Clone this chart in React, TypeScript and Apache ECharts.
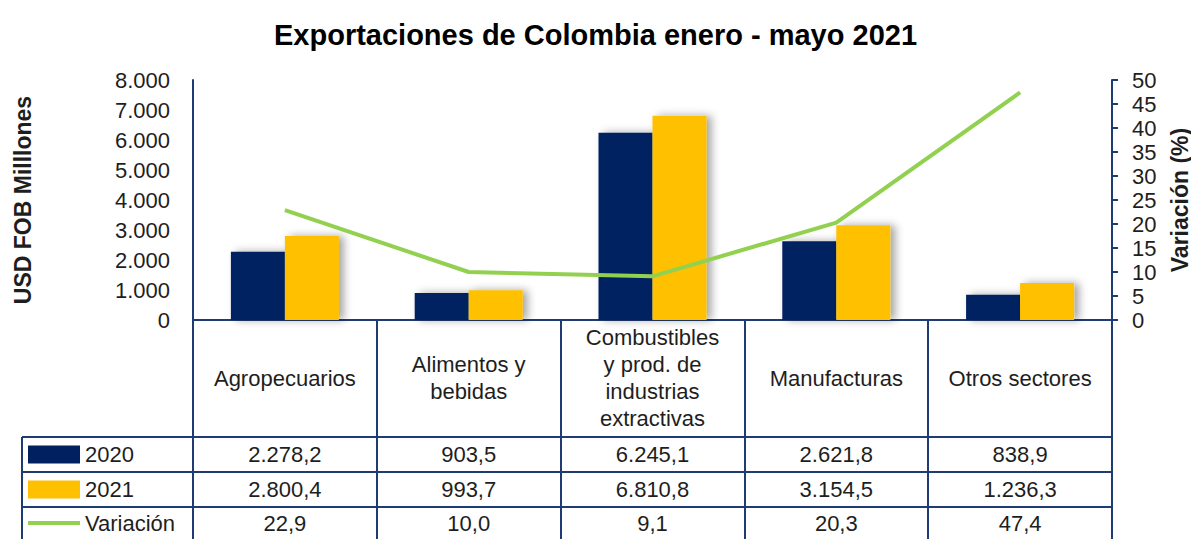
import React, { useEffect, useRef } from "react";
import * as echarts from "echarts";

const categories = [
  "Agropecuarios",
  "Alimentos y\nbebidas",
  "Combustibles\ny prod. de\nindustrias\nextractivas",
  "Manufacturas",
  "Otros sectores",
];
const exports2020 = [2278.2, 903.5, 6245.1, 2621.8, 838.9];
const exports2021 = [2800.4, 993.7, 6810.8, 3154.5, 1236.3];
const variation = [22.9, 10.0, 9.1, 20.3, 47.4];
const seriesNames = ["2020", "2021", "Variación"];
const titleText = "Exportaciones de Colombia enero - mayo 2021";
const leftAxisName = "USD FOB Milllones";
const rightAxisName = "Variación (%)";

const FONT = "'Liberation Sans', Arial, sans-serif";
const NAVY = "#002060";
const GOLD = "#FFC000";
const GREEN = "#92D050";
const LINE = "#1F3B73";
const TEXT = "#1e1e1e";

function fmt(v: number, d: number): string {
  const [i, f] = v.toFixed(d).split(".");
  const ii = i.replace(/\B(?=(\d{3})+(?!\d))/g, ".");
  return f ? ii + "," + f : ii;
}

export default function App() {
  const ref = useRef<HTMLDivElement>(null);
  useEffect(() => {
    if (!ref.current) return;
    const chart = echarts.init(ref.current, null, { renderer: "svg" });
    const W = 1191;
    const H = 539;
    const gridLeft = 193;
    const gridRight = 1112;
    const gridTop = 80;
    const gridBottom = 320;

    const rowAxis = (data: string[], offset: number) => ({
      type: "category",
      gridIndex: 0,
      position: "bottom",
      offset,
      data,
      axisLine: { show: false },
      axisTick: { show: false },
      splitLine: { show: false },
      axisLabel: {
        interval: 0,
        margin: 0,
        verticalAlign: "middle",
        fontSize: 22,
        fontFamily: FONT,
        color: TEXT,
      },
    });

    const legendItem = (name: string, centerY: number, icon?: string) => ({
      orient: "vertical",
      left: 28,
      top: centerY - 11,
      itemWidth: 52,
      itemHeight: 18,
      padding: 0,
      selectedMode: false,
      textStyle: { fontSize: 22, fontFamily: FONT, color: TEXT, padding: [0, 0, 0, 0] },
      data: [icon ? { name, icon, itemStyle: { color: GREEN } } : { name, icon: "rect" }],
    });

    const hLine = (y: number) => ({
      type: "line",
      shape: { x1: 22, y1: y, x2: gridRight, y2: y },
      style: { stroke: LINE, lineWidth: 2 },
      silent: true,
    });

    chart.setOption({
      animation: false,
      backgroundColor: "#ffffff",
      textStyle: { fontFamily: FONT },
      title: {
        text: titleText,
        left: "center",
        top: 15,
        textStyle: { fontSize: 29, fontWeight: "bold", color: "#000", fontFamily: FONT },
      },
      legend: [
        legendItem(seriesNames[0], 454.5),
        legendItem(seriesNames[1], 489.5),
        legendItem(seriesNames[2], 523, "path://M0,0H52V4H0Z"),
      ],
      grid: {
        left: gridLeft,
        right: W - gridRight,
        top: gridTop,
        bottom: H - gridBottom,
        containLabel: false,
        outerBoundsMode: "none",
      },
      xAxis: [
        {
          type: "category",
          data: categories,
          axisLine: { show: true, lineStyle: { color: LINE, width: 2 } },
          axisTick: {
            show: true,
            interval: 0,
            length: H - gridBottom,
            lineStyle: { color: LINE, width: 2 },
          },
          axisLabel: {
            interval: 0,
            margin: 58,
            verticalAlign: "middle",
            lineHeight: 27,
            fontSize: 22,
            fontFamily: FONT,
            color: TEXT,
          },
        },
        rowAxis(exports2020.map((v) => fmt(v, 1)), 134.5),
        rowAxis(exports2021.map((v) => fmt(v, 1)), 169.5),
        rowAxis(variation.map((v) => fmt(v, 1)), 203),
      ],
      yAxis: [
        {
          type: "value",
          min: 0,
          max: 8000,
          interval: 1000,
          position: "left",
          name: leftAxisName,
          nameLocation: "middle",
          nameRotate: 90,
          nameGap: 159,
          nameTextStyle: { fontSize: 23, fontWeight: "bold", color: TEXT, fontFamily: FONT },
          axisLine: { show: true, lineStyle: { color: LINE, width: 2 } },
          axisTick: { show: false },
          splitLine: { show: false },
          axisLabel: {
            margin: 23,
            fontSize: 22,
            fontFamily: FONT,
            color: TEXT,
            formatter: (v: number) => fmt(v, 0),
          },
        },
        {
          type: "value",
          min: 0,
          max: 50,
          interval: 5,
          position: "right",
          name: rightAxisName,
          nameLocation: "middle",
          nameRotate: 90,
          nameGap: 56,
          nameTextStyle: { fontSize: 23, fontWeight: "bold", color: TEXT, fontFamily: FONT },
          axisLine: { show: true, lineStyle: { color: LINE, width: 2 } },
          axisTick: { show: true, length: 6, lineStyle: { color: LINE, width: 2 } },
          splitLine: { show: false },
          axisLabel: {
            margin: 20,
            fontSize: 22,
            fontFamily: FONT,
            color: TEXT,
          },
        },
      ],
      series: [
        {
          name: seriesNames[0],
          type: "bar",
          data: exports2020,
          barWidth: 54,
          barGap: "0%",
          itemStyle: {
            color: NAVY,
            shadowColor: "rgba(0,0,0,0.35)",
            shadowBlur: 8,
            shadowOffsetX: 5,
          },
        },
        {
          name: seriesNames[1],
          type: "bar",
          data: exports2021,
          barWidth: 54,
          barGap: "0%",
          itemStyle: {
            color: GOLD,
            shadowColor: "rgba(0,0,0,0.35)",
            shadowBlur: 8,
            shadowOffsetX: 5,
          },
        },
        {
          name: seriesNames[2],
          type: "line",
          yAxisIndex: 1,
          data: variation,
          symbol: "none",
          lineStyle: { color: GREEN, width: 4 },
          itemStyle: { color: GREEN },
        },
      ],
      graphic: [
        hLine(437),
        hLine(472),
        hLine(507),
        {
          type: "line",
          shape: { x1: 22, y1: 437, x2: 22, y2: H },
          style: { stroke: LINE, lineWidth: 2 },
          silent: true,
        },
      ],
    });
    return () => chart.dispose();
  }, []);

  return (
    <div
      ref={ref}
      style={{ position: "fixed", left: 0, top: 0, width: 1191, height: 539, background: "#fff" }}
    />
  );
}
